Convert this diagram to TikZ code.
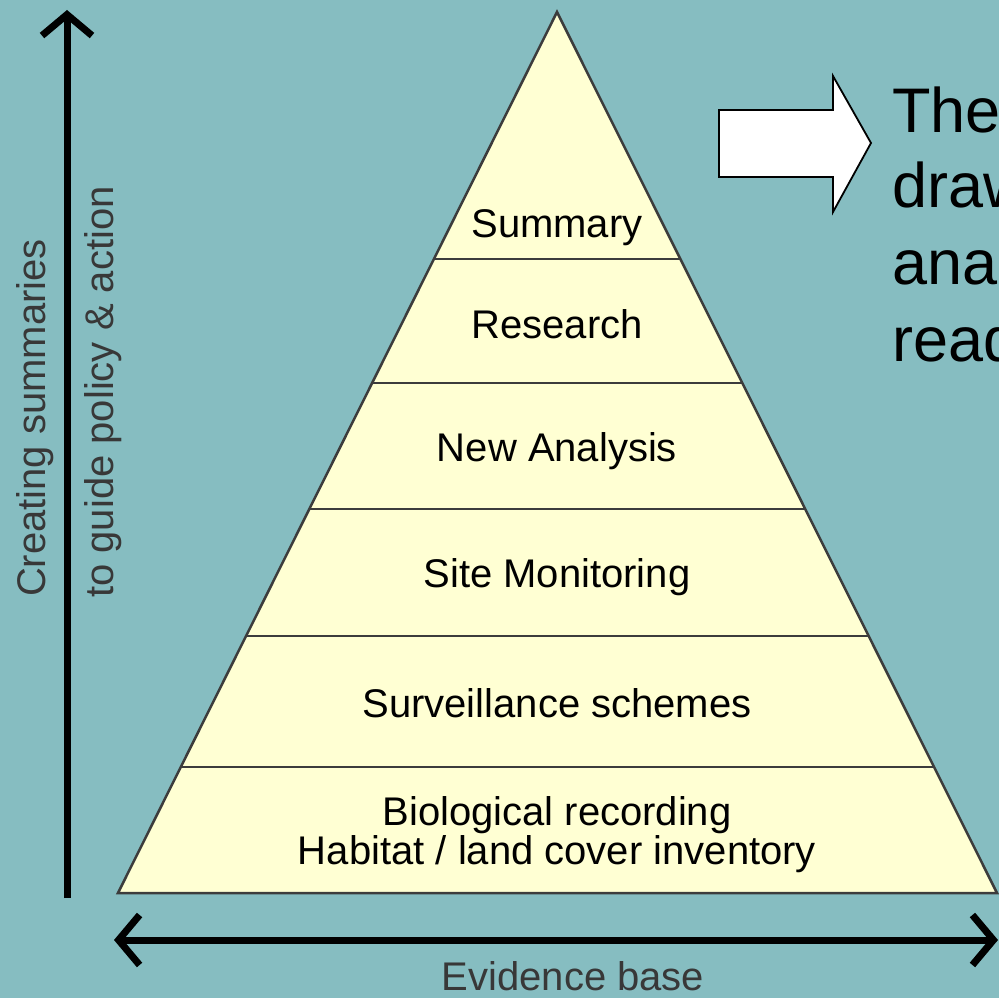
\documentclass[tikz,border=0pt]{standalone}
\usepackage{fontspec}
\setmainfont{Liberation Sans}
\usetikzlibrary{arrows.meta}
\definecolor{bgteal}{RGB}{134,189,193}
\definecolor{pyrfill}{RGB}{255,255,211}
\definecolor{edgegray}{RGB}{60,60,60}
\begin{document}
\begin{tikzpicture}[x=1pt,y=-1pt,
  lbl/.style={inner sep=0pt,anchor=base,font=\fontsize{40}{48}\selectfont,text=black},
  sidelbl/.style={inner sep=0pt,font=\fontsize{40}{48}\selectfont,text=black!78},
  bigtxt/.style={inner sep=0pt,anchor=base west,font=\fontsize{63}{76}\selectfont,text=black},
  axis/.style={line width=7pt,black,arrows={-Straight Barb[length=21pt,width=50pt]}},
  divider/.style={line width=2pt,edgegray}]
\useasboundingbox (0,0) rectangle (999,998);
\fill[bgteal] (0,0) rectangle (999,998);
\begin{scope}
\clip (0,0) rectangle (999,998);
% pyramid
\coordinate (apex) at (557,12);
\coordinate (bl) at (118,893);
\coordinate (br) at (997,893);
\filldraw[fill=pyrfill,draw=edgegray,line width=2.5pt,line join=miter] (apex) -- (br) -- (bl) -- cycle;
\foreach \yy in {259,383,509,636,767}{
  \pgfmathsetmacro{\dx}{0.4994*(\yy-12)}
  \draw[divider] ({557-\dx},\yy) -- ({557+\dx},\yy);
}
% layer labels
\node[lbl] (summary) at (557,237) {Summary};
\node[lbl] (research) at (557,338) {Research};
\node[lbl] (newan) at (557,461) {New Analysis};
\node[lbl] (site) at (557,587) {Site Monitoring};
\node[lbl] (surv) at (557,717) {Surveillance schemes};
\node[lbl] (bio) at (557,825) {Biological recording};
\node[lbl] (hab) at (557,864) {Habitat / land cover inventory};
% axes
\coordinate (vb) at (67,898);
\coordinate (vt) at (67,10);
\draw[axis] (vb) -- (vt);
\coordinate (hl) at (114,940);
\coordinate (hr) at (998,940);
\draw[axis,arrows={Straight Barb[length=21pt,width=50pt]-Straight Barb[length=21pt,width=50pt]}] (hl) -- (hr);
\node[sidelbl,rotate=90] (create) at (35,418) {Creating summaries};
\node[sidelbl,rotate=90] (guide) at (103,392) {to guide policy \& action};
\node[sidelbl,anchor=base] (evid) at (573,990) {Evidence base};
% block arrow
\filldraw[fill=white,draw=black,line width=1.8pt,line join=miter]
  (719,110) -- (833,110) -- (833,76) -- (871,143) -- (833,212) -- (833,177) -- (719,177) -- cycle;
% clipped right text
\node[bigtxt] (t1) at (892,132) {The};
\node[bigtxt] (t2) at (892,207) {draw};
\node[bigtxt] (t3) at (892,284) {ana};
\node[bigtxt] (t4) at (892,361) {read};
\end{scope}
\end{tikzpicture}
\end{document}
